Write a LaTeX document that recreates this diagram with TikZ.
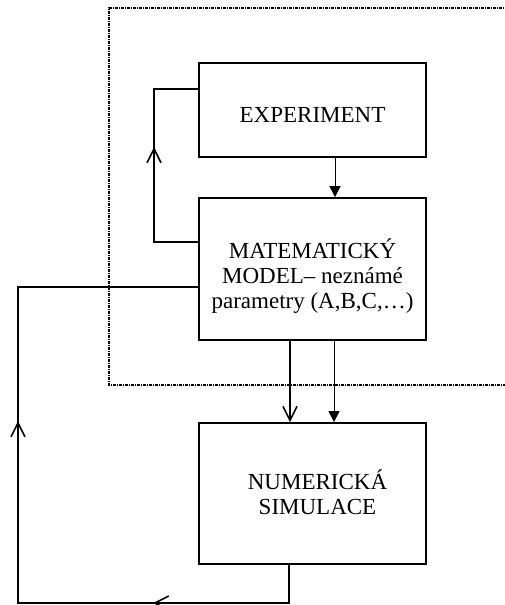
\documentclass[tikz,border=0pt]{standalone}
\usepackage{fontspec}
\setmainfont{Liberation Serif}
\usetikzlibrary{arrows.meta}
\begin{document}
\begin{tikzpicture}[x=1pt,y=-1pt,
  box/.style={draw,line width=1.8pt,minimum width=227pt,inner sep=0pt},
  txt/.style={align=center,font=\fontsize{23}{25}\selectfont,inner sep=0pt},
  heavy/.style={line width=1.8pt},
  light/.style={line width=1pt},
  openhead/.style={-{Straight Barb[length=14pt,width=14pt,line width=1.6pt]}},
  fillhead/.style={-{Triangle[length=11pt,width=11pt]}},
  frame/.style={line width=1.2pt,dash pattern=on 3pt off 1pt on 1pt off 1pt}]
\useasboundingbox (0,0) rectangle (505,605);
% dotted frame
\draw[frame] (520,8) -- (109,8) -- (109,385) -- (520,385);
% boxes
\node[box,minimum height=94pt,label={[txt,name=expt,yshift=-5pt]center:EXPERIMENT}] (exp) at (312.5,110) {};
\node[box,minimum height=142pt,label={[txt,name=modt,yshift=-7pt]center:MATEMATICKÝ\\MODEL– neznámé\\parametry (A,B,C,…)}] (model) at (312.5,269) {};
\node[box,minimum height=141pt,label={[txt,name=numt,xshift=5pt,yshift=1pt]center:NUMERICKÁ\\SIMULACE}] (num) at (312.5,493.5) {};
% experiment -> model
\draw[light,fillhead] ([xshift=22.5pt]exp.south) -- ([xshift=22.5pt]model.north);
% model -> numerical simulation
\draw[heavy,openhead] ([xshift=-22.5pt]model.south) -- ([xshift=-22.5pt]num.north);
\draw[light,fillhead] ([xshift=21.5pt]model.south) -- ([xshift=21.5pt]num.north);
% left loop model -> experiment
\coordinate (la) at (154,242);
\coordinate (lb) at (154,89);
\coordinate (lm) at (154,147);
\draw[heavy] ([yshift=27pt]model.west) -- (la) -- (lb) -- ([yshift=21pt]exp.west);
\draw[heavy,openhead] (la) -- (lm);
% bottom loop numerical simulation -> model
\coordinate (ba) at (289,603);
\coordinate (bb) at (18,603);
\coordinate (bc) at (18,287);
\coordinate (bm) at (18,421);
\coordinate (bt) at (153,603);
\draw[heavy] ([xshift=-23.5pt]num.south) -- (ba) -- (bb) -- (bc) -- ([yshift=-18pt]model.west);
\draw[heavy,openhead] (bb) -- (bm);
\draw[heavy,openhead] (ba) -- (bt);
\end{tikzpicture}
\end{document}
